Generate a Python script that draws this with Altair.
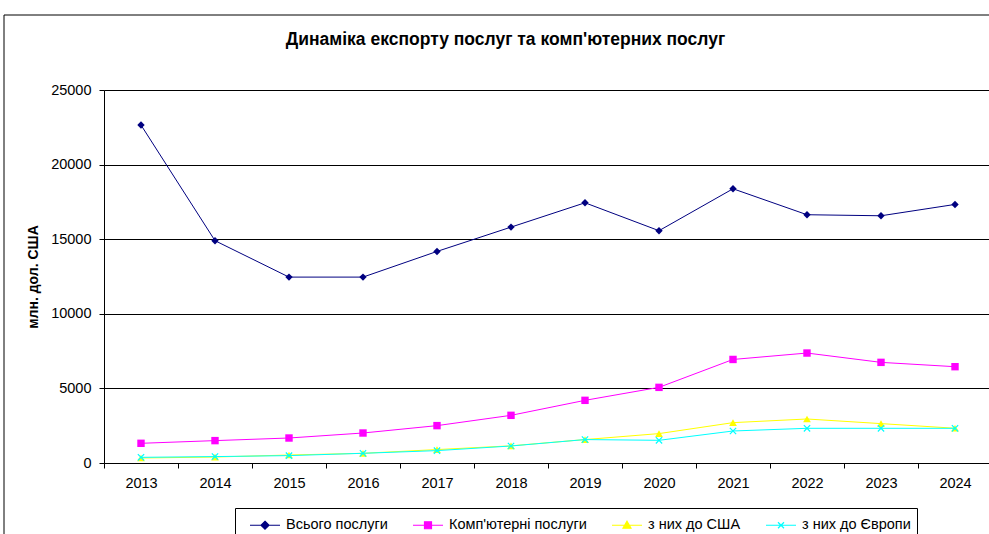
import altair as alt
import pandas as pd

years = ["2013", "2014", "2015", "2016", "2017", "2018", "2019", "2020", "2021", "2022", "2023", "2024"]
series_names = ["Всього послуги", "Комп'ютерні послуги", "з них до США", "з них до Європи"]
total = [22650, 14900, 12460, 12460, 14180, 15810, 17440, 15570, 18380, 16640, 16570, 17330]
computer = [1320, 1500, 1675, 2010, 2505, 3195, 4200, 5070, 6940, 7370, 6745, 6455]
usa = [335, 400, 535, 650, 900, 1150, 1570, 1970, 2705, 2950, 2640, 2330]
europe = [380, 430, 495, 650, 830, 1140, 1570, 1520, 2145, 2325, 2325, 2325]
y_ticks = [0, 5000, 10000, 15000, 20000, 25000]

colors = ["#000080", "#FF00FF", "#FFFF00", "#00FFFF"]
marker_shapes = ["diamond", "square", "triangle-up", "M-1,-1L1,1M-1,1L1,-1"]
marker_filled = [True, True, True, False]
marker_sizes = [55, 55, 60, 40]
legend_paths = [
    "M-1.5,0L1.5,0M0,-0.4L0.4,0L0,0.4L-0.4,0Z",
    "M-1.5,0L1.5,0M-0.35,-0.35L0.35,-0.35L0.35,0.35L-0.35,0.35Z",
    "M-1.5,0L1.5,0M0,-0.4L0.4,0.3L-0.4,0.3Z",
    "M-1.5,0L1.5,0M-0.3,-0.3L0.3,0.3M-0.3,0.3L0.3,-0.3",
]

rows = []
for name, vals in zip(series_names, [total, computer, usa, europe]):
    for yr, v in zip(years, vals):
        rows.append({"year": yr, "series": name, "value": v})
df = pd.DataFrame(rows)

FONT = "Liberation Sans"
W, H = 885, 373

x_enc = alt.X(
    "year:O",
    sort=years,
    scale=alt.Scale(range=[0, 888], paddingInner=0, paddingOuter=0),
    axis=alt.Axis(
        title=None, labelAngle=0, tickBand="extent", ticks=True, tickSize=5,
        tickColor="black", domainColor="black", labelFont=FONT, labelFontSize=14.5,
        labelColor="black", labelPadding=8, grid=False,
    ),
)
y_enc = alt.Y(
    "value:Q",
    scale=alt.Scale(domain=[0, 25000], nice=False),
    axis=alt.Axis(
        title="млн. дол. США", values=y_ticks, format="d", grid=True, gridColor="black",
        gridWidth=1, tickSize=5, tickColor="black", domainColor="black",
        labelFont=FONT, labelFontSize=14.5, labelColor="black", labelPadding=8,
        titleFont=FONT, titleFontSize=14, titleFontWeight="bold", titleColor="black",
        titlePadding=10,
    ),
)

legend_def = alt.Legend(
    title=None, orient="none", legendX=131, legendY=418, direction="horizontal",
    columns=4, strokeColor="black", padding=6, fillColor="white",
    labelFont=FONT, labelFontSize=14.5, labelColor="black",
    symbolSize=400, symbolOffset=13, labelOffset=10, columnPadding=16,
    symbolStrokeWidth=1.2, symbolOpacity=1,
)

layers = []
base = alt.Chart(df)
for name, col, shp, filled, sz in zip(series_names, colors, marker_shapes, marker_filled, marker_sizes):
    sub = base.transform_filter(alt.datum.series == name).encode(x=x_enc, y=y_enc)
    layers.append(sub.mark_line(color=col, strokeWidth=1))
    layers.append(sub.mark_point(color=col, shape=shp, filled=filled, size=sz,
                                 strokeWidth=1.2, opacity=1))

legend_layer = base.transform_filter("false").mark_point(
    filled=True, strokeWidth=1.2, opacity=1
).encode(
    color=alt.Color("series:N", scale=alt.Scale(domain=series_names, range=colors), legend=legend_def),
    stroke=alt.Stroke("series:N", scale=alt.Scale(domain=series_names, range=colors), legend=legend_def),
    shape=alt.Shape("series:N", scale=alt.Scale(domain=series_names, range=legend_paths), legend=legend_def),
)

frame_df = pd.DataFrame({"k": [0]})
frame_left = alt.Chart(frame_df).mark_rule(color="black", strokeWidth=1).encode(
    x=alt.value(-100), y=alt.value(-75), y2=alt.value(450)
)
frame_top = alt.Chart(frame_df).mark_rule(color="black", strokeWidth=1).encode(
    x=alt.value(-100), x2=alt.value(900), y=alt.value(-75)
)

chart = alt.layer(frame_left, frame_top, *layers, legend_layer).properties(
    width=W,
    height=H,
    autosize=alt.AutoSizeParams(type="none"),
    padding={"left": 104, "top": 90, "right": 0, "bottom": 71},
    title=alt.TitleParams(
        "Динаміка експорту послуг та комп'ютерних послуг",
        font=FONT, fontSize=17.5, fontWeight="bold", color="black",
        anchor="middle", frame="group", dx=-41, offset=-43, baseline="middle",
    ),
).configure_view(stroke=None).configure(background="white")

chart.save("out.html", embed_options={"renderer": "svg", "actions": False})
